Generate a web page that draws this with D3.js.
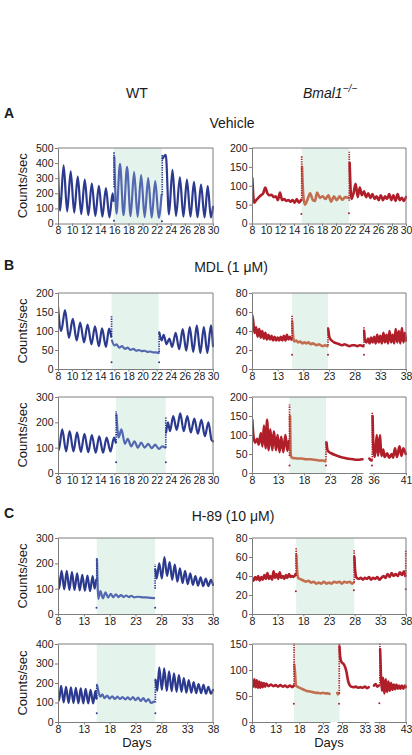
<!DOCTYPE html>
<html><head><meta charset="utf-8">
<script src="https://cdn.jsdelivr.net/npm/d3@7"></script>
<style>
body{margin:0;background:#fff;}
svg{display:block;font-family:Arial,"Liberation Sans",Helvetica,sans-serif;}
</style></head><body>
<svg id="chart" width="412" height="755"></svg>
<script>
// ---------- tick labels ----------
const xTicksEven = [8,10,12,14,16,18,20,22,24,26,28,30];
const xTicksFive = [8,13,18,23,28,33,38];
const xTicksB2Ko = [8,13,18,23,28,36,41];
const xTicksC2Ko = [8,13,18,23,28,33,38,43];
const yT500 = [0,100,200,300,400,500];
const yT400 = [0,100,200,300,400];
const yT300 = [0,100,200,300];
const yT200by50 = [0,50,100,150,200];
const yT150 = [0,50,100,150];
const yT80 = [0,20,40,60,80];

// ---------- A: Vehicle, WT ----------
const aWtPre = [[8,360],[8.3,85],[8.8,385],[9.3,80],[9.8,345],[10.3,72],[10.8,310],[11.3,62],[11.8,290],[12.3,55],[12.8,265],[13.3,50],[13.8,250],[14.3,45],[14.8,235],[15.3,40],[15.75,200],[15.9,150]];
const aWtDrug = [[16.0,440],[16.3,65],[16.8,395],[17.3,55],[17.8,375],[18.3,48],[18.8,340],[19.3,45],[19.8,320],[20.3,42],[20.8,300],[21.3,40],[21.8,280],[22.3,38],[22.7,190]];
const aWtPost = [[22.85,430],[23.3,455],[23.75,60],[24.25,355],[24.75,50],[25.3,305],[25.8,45],[26.3,290],[26.8,45],[27.3,275],[27.8,42],[28.3,258],[28.8,40],[29.25,248],[29.7,40],[30,110]];
const aWtSpikes = [[15.95,240,475],[22.8,190,455]];
const aWtDots = [[15.95,18],[22.75,15]];

// ---------- A: Vehicle, Bmal1-/- ----------
const aKoPre = [[8.05,120],[8.3,55],[8.6,62],[9.0,70],[9.3,75],[9.6,80],[9.9,95],[10.2,80],[10.5,75],[10.8,76],[11.1,70],[11.4,72],[11.7,62],[12.0,82],[12.3,62],[12.6,65],[12.9,60],[13.2,62],[13.5,58],[13.8,62],[14.1,55],[14.4,65],[14.7,55],[15.0,62]];
const aKoDrug = [[15.15,150],[15.3,80],[15.55,50],[15.9,62],[16.3,80],[16.7,62],[17.0,60],[17.3,82],[17.7,68],[18.1,72],[18.5,65],[18.9,75],[19.3,58],[19.7,72],[20.1,62],[20.5,72],[20.9,63],[21.3,70],[21.8,68]];
const aKoPost = [[21.95,160],[22.2,65],[22.5,80],[22.8,105],[23.1,70],[23.4,95],[23.7,75],[24.0,85],[24.3,70],[24.6,80],[24.9,68],[25.2,78],[25.5,65],[25.8,72],[26.1,62],[26.4,75],[26.7,62],[27.0,72],[27.3,65],[27.6,78],[27.9,62],[28.2,75],[28.5,60],[28.8,78],[29.1,62],[29.4,68],[29.7,60],[30,70]];
const aKoSpikes = [[8.0,70,200],[15.1,60,180],[21.9,60,190]];
const aKoDots = [[15.05,25],[21.85,27]];

// ---------- B: MDL, WT (1) ----------
const b1WtPre = [[8,165],[8.45,100],[9.0,155],[9.55,82],[10.1,132],[10.65,75],[11.15,122],[11.7,70],[12.2,117],[12.75,65],[13.25,112],[13.8,60],[14.25,107],[14.8,58],[15.25,106],[15.55,85]];
const b1WtDrug = [[15.65,75],[16.0,62],[16.3,65],[16.7,56],[17.1,60],[17.5,53],[17.9,56],[18.3,50],[18.7,53],[19.1,48],[19.5,50],[19.9,47],[20.3,48],[20.7,45],[21.1,46],[21.5,44],[21.9,44],[22.3,42]];
const b1WtPost = [[22.4,95],[22.7,75],[23.0,90],[23.4,65],[23.8,80],[24.2,58],[24.7,95],[25.2,52],[25.7,105],[26.2,48],[26.7,110],[27.2,45],[27.7,115],[28.2,42],[28.7,110],[29.2,42],[29.7,115],[30,60]];
const b1WtSpikes = [[15.6,85,140],[22.35,45,100]];
const b1WtDots = [[15.6,18],[22.35,18]];

// ---------- B: MDL, Bmal1-/- (1) ----------
const b1KoPre = [[8,57],[8.2,52],[8.5,38],[8.8,44],[9.1,34],[9.4,42],[9.7,33],[10.0,40],[10.3,32],[10.6,38],[10.9,31],[11.2,36],[11.5,31],[11.8,35],[12.1,30],[12.4,34],[12.7,30],[13.0,33],[13.3,30],[13.6,34],[13.9,30],[14.2,35],[14.5,30],[14.8,36],[15.1,31],[15.4,34],[15.7,31]];
const b1KoDrug = [[15.85,50],[16.0,35],[16.2,29],[16.6,30],[17.0,28],[17.4,29],[17.8,27],[18.2,28],[18.6,27],[19.0,28],[19.4,26],[19.8,27],[20.2,26],[20.6,25],[21.0,26],[21.4,25],[21.8,24],[22.2,25],[22.7,24]];
const b1KoPost = [[22.85,42],[23.1,33],[23.5,30],[24.0,28],[24.5,27],[25.0,26],[25.5,25],[26.0,26],[26.5,25],[27.0,24],[27.5,25],[28.0,25],[28.5,24],[29.0,25],[29.7,24]];
const b1KoPost2 = [[29.85,40],[30.0,30],[30.3,28],[30.6,32],[30.9,27],[31.2,33],[31.5,28],[31.8,34],[32.1,27],[32.4,36],[32.7,28],[33.0,35],[33.3,27],[33.6,38],[33.9,28],[34.2,36],[34.5,27],[34.8,40],[35.1,28],[35.4,36],[35.7,27],[36.0,42],[36.3,28],[36.6,40],[36.9,27],[37.2,43],[37.5,28],[37.8,38],[38,30]];
const b1KoSpikes = [[15.8,32,57],[22.8,25,45],[29.8,25,45]];
const b1KoDots = [[15.8,15],[22.8,15],[29.8,15]];

// ---------- B: MDL, WT (2) ----------
const b2WtPre = [[8,95],[8.1,90],[8.6,172],[9.15,85],[9.65,165],[10.2,85],[10.7,160],[11.25,83],[11.75,155],[12.3,82],[12.8,150],[13.35,80],[13.85,145],[14.4,80],[14.9,140],[15.45,85],[15.95,140],[16.2,120]];
const b2WtDrug = [[16.3,230],[16.6,140],[17.0,172],[17.5,115],[17.9,135],[18.4,105],[18.85,125],[19.35,100],[19.8,120],[20.3,100],[20.8,115],[21.3,98],[21.8,112],[22.3,95],[22.8,105],[23.2,100]];
const b2WtPost = [[23.35,160],[23.6,200],[23.9,165],[24.35,225],[24.85,170],[25.35,235],[25.85,165],[26.35,225],[26.85,160],[27.35,215],[27.85,155],[28.35,210],[28.85,145],[29.35,200],[29.8,130],[30,125]];
const b2WtSpikes = [[16.25,120,245],[23.3,100,220]];
const b2WtDots = [[16.25,42],[23.3,42]];

// ---------- B: MDL, Bmal1-/- (2), broken axis ----------
const b2KoPre = [[8.05,140],[8.3,95],[8.6,80],[9.0,90],[9.3,75],[9.7,105],[10.0,70],[10.3,125],[10.6,65],[10.9,140],[11.2,60],[11.5,115],[11.9,60],[12.2,110],[12.6,60],[12.9,100],[13.3,55],[13.6,95],[14.0,55],[14.4,100],[14.8,58],[15.1,85]];
const b2KoDrug = [[15.3,150],[15.45,45],[15.7,40],[16.2,39],[16.8,38],[17.4,38],[18.0,37],[18.6,36],[19.2,36],[19.8,35],[20.4,34],[21.0,33],[21.6,33],[22.1,31]];
const b2KoPost = [[22.3,80],[22.5,60],[22.8,55],[23.2,52],[23.8,48],[24.4,45],[25.0,42],[25.6,40],[26.2,38],[26.8,37],[27.4,36],[28.0,35],[28.6,35],[29.2,36]];
const b2KoLateA = [[35.35,38],[35.5,35],[35.7,33]];
const b2KoLateB = [[35.85,150],[36.0,60],[36.2,42],[36.5,100],[36.7,45],[37.0,100],[37.2,45],[37.5,62],[37.7,42],[38.1,52],[38.4,40],[38.8,50],[39.0,40],[39.3,65],[39.6,42],[40.0,70],[40.3,45],[40.6,65],[40.95,50]];
const b2KoSpikes = [[8.0,90,185],[15.2,45,180],[22.2,35,85],[35.8,35,160]];
const b2KoDots = [[15.2,20],[22.2,20],[35.75,20]];

// ---------- C: H-89, WT (1) ----------
const c1WtPre = [[8,150],[8.2,100],[8.7,170],[9.2,97],[9.7,170],[10.2,95],[10.7,165],[11.2,95],[11.7,160],[12.2,93],[12.7,155],[13.2,92],[13.7,152],[14.2,90],[14.7,150],[15.1,100],[15.4,135]];
const c1WtDrug = [[15.55,215],[15.8,60],[16.2,90],[16.7,62],[17.2,85],[17.7,65],[18.2,80],[18.7,66],[19.2,78],[19.7,67],[20.2,75],[20.7,67],[21.2,73],[21.7,67],[22.2,72],[22.7,66],[23.5,68],[24.5,66],[25.5,65],[26.6,63]];
const c1WtPost = [[26.85,175],[27.1,140],[27.6,200],[28.1,140],[28.6,225],[29.1,150],[29.6,205],[30.1,135],[30.6,195],[31.1,128],[31.6,180],[32.1,122],[32.6,170],[33.1,118],[33.6,160],[34.1,115],[34.6,150],[35.1,112],[35.6,145],[36.1,110],[36.6,140],[37.1,110],[37.6,135],[38,115]];
const c1WtSpikes = [[15.5,130,225],[26.8,100,195]];
const c1WtDots = [[15.45,25],[26.8,25]];

// ---------- C: H-89, Bmal1-/- (1) ----------
const c1KoPre = [[8,38],[8.3,35],[8.6,39],[8.9,36],[9.2,40],[9.5,35],[9.8,39],[10.1,36],[10.4,41],[10.7,37],[11.0,43],[11.3,37],[11.6,40],[11.9,36],[12.2,45],[12.5,38],[12.8,42],[13.1,37],[13.4,44],[13.7,38],[14.0,40],[14.3,37],[14.6,41],[14.9,38],[15.2,42],[15.5,39],[15.8,40],[16.1,39],[16.5,42]];
const c1KoDrug = [[16.65,62],[16.8,45],[17.0,38],[17.3,37],[17.7,36],[18.1,35],[18.5,34],[19.0,35],[19.5,33],[20.0,34],[20.5,32],[21.0,33],[21.5,32],[22.0,34],[22.5,32],[23.0,33],[23.5,32],[24.0,34],[24.5,33],[25.0,34],[25.5,32],[26.0,34],[26.5,33],[27.0,34],[27.5,32],[27.8,33]];
const c1KoPost = [[27.95,60],[28.1,45],[28.4,38],[28.8,37],[29.2,38],[29.6,36],[30.0,38],[30.4,37],[30.8,39],[31.2,36],[31.6,38],[32.0,37],[32.4,39],[32.8,36],[33.2,38],[33.6,40],[34.0,38],[34.4,42],[34.8,39],[35.2,43],[35.6,40],[36.0,42],[36.4,40],[36.8,44],[37.2,41],[37.6,45],[37.85,40]];
const c1KoSpikes = [[16.6,40,70],[27.9,33,67],[37.95,40,67]];
const c1KoDots = [[16.55,24],[27.85,25],[37.95,26]];

// ---------- C: H-89, WT (2) ----------
const c2WtPre = [[8,140],[8.2,110],[8.6,185],[9.1,100],[9.55,180],[10.05,98],[10.5,178],[11.0,97],[11.45,175],[11.95,96],[12.4,172],[12.9,95],[13.35,170],[13.85,95],[14.3,165],[14.8,95],[15.25,160],[15.45,120]];
const c2WtDrug = [[15.55,190],[15.8,160],[16.2,130],[16.6,142],[17.0,122],[17.5,135],[18.0,120],[18.5,132],[19.0,118],[19.5,130],[20.0,118],[20.5,128],[21.0,116],[21.5,126],[22.0,115],[22.5,128],[23.0,112],[23.5,125],[24.0,108],[24.5,122],[25.0,105],[25.5,118],[26.0,98],[26.6,105]];
const c2WtPost = [[26.9,215],[27.2,160],[27.6,280],[28.1,165],[28.55,275],[29.05,160],[29.5,260],[30.0,158],[30.45,250],[30.95,155],[31.4,240],[31.9,155],[32.35,225],[32.85,150],[33.3,215],[33.8,150],[34.25,205],[34.75,148],[35.2,195],[35.7,148],[36.15,190],[36.65,145],[37.1,180],[37.6,145],[38,165]];
const c2WtSpikes = [[15.5,120,190],[26.85,100,225]];
const c2WtDots = [[15.5,45],[26.85,45]];

// ---------- C: H-89, Bmal1-/- (2), broken axis ----------
const c2KoPre = [[8,78],[8.25,68],[8.5,82],[8.75,67],[9.0,80],[9.25,66],[9.5,78],[9.75,66],[10.0,76],[10.25,67],[10.5,75],[10.75,68],[11.0,74],[11.5,69],[12.0,72],[12.5,69],[13.0,71],[13.5,68],[14.0,71],[14.5,68],[15.0,70],[15.5,67],[16.0,70],[16.5,67],[16.8,70]];
const c2KoDrugA = [[16.95,110],[17.1,95],[17.3,70],[17.6,68],[18.0,66],[18.5,64],[19.0,62],[19.5,60],[20.0,59],[20.5,58],[21.0,57],[21.5,56],[22.0,56],[22.5,55],[23.0,56],[23.5,55],[24.0,55],[24.4,54]];
const c2KoDrugB = [[26.95,56],[27.1,53],[27.3,55]];
const c2KoPost = [[27.45,145],[27.6,125],[27.9,115],[28.3,112],[28.7,105],[29.0,95],[29.3,80],[29.6,72],[30.0,68],[30.5,67],[31.0,68],[31.5,66],[32.0,67],[32.5,66],[33.0,68],[33.5,65],[33.85,67]];
const c2KoLateA = [[37.0,70],[37.3,73],[37.6,68],[37.9,70]];
const c2KoLateB = [[38.15,140],[38.3,90],[38.5,60],[38.7,85],[38.95,55],[39.2,82],[39.45,58],[39.7,78],[39.95,60],[40.2,75],[40.45,62],[40.7,72],[40.95,63],[41.2,72],[41.45,64],[41.7,70],[41.95,64],[42.2,70],[42.5,64],[42.8,70],[43,67]];
const c2KoSpikes = [[16.9,68,160],[27.4,55,160],[38.1,70,160]];
const c2KoDots = [[16.85,35],[27.35,35],[38.0,36]];

// ---------- drawing ----------
const COL = {blue:'#2b3a8f', blueDrug:'#5468b2', red:'#b01e2a', redDrug:'#c36e4f',
             shade:'#e4f3eb', frame:'#7d7d7d', text:'#1a1a1a'};
const colX = [[58,213],[252,406]];
const rowY = [[148,223.5],[293,369],[397,473],[538,614],[644,722]];

const panels = [
 {id:'aWt', row:0,col:0, segs:[[8,30]], xTicks:xTicksEven, yTicks:yT500, shade:[15.9,22.75], pre:[aWtPre], drug:[aWtDrug], post:[aWtPost], spikes:aWtSpikes, dots:aWtDots},
 {id:'aKo', row:0,col:1, segs:[[8,30]], xTicks:xTicksEven, yTicks:yT200by50, shade:[15.1,21.87], pre:[aKoPre], drug:[aKoDrug], post:[aKoPost], spikes:aKoSpikes, dots:aKoDots},
 {id:'b1Wt', row:1,col:0, segs:[[8,30]], xTicks:xTicksEven, yTicks:yT200by50, shade:[15.6,22.3], pre:[b1WtPre], drug:[b1WtDrug], post:[b1WtPost], spikes:b1WtSpikes, dots:b1WtDots},
 {id:'b1Ko', row:1,col:1, segs:[[8,38]], xTicks:xTicksFive, yTicks:yT80, shade:[15.8,22.8], pre:[b1KoPre], drug:[b1KoDrug], post:[b1KoPost,b1KoPost2], spikes:b1KoSpikes, dots:b1KoDots},
 {id:'b2Wt', row:2,col:0, segs:[[8,30]], xTicks:xTicksEven, yTicks:yT300, shade:[16.25,23.3], pre:[b2WtPre], drug:[b2WtDrug], post:[b2WtPost], spikes:b2WtSpikes, dots:b2WtDots},
 {id:'b2Ko', row:2,col:1, segs:[[8,29.3],[35.3,41]], ranges:[[252,363],[369,406]], xTicks:xTicksB2Ko, yTicks:yT200by50, shade:[15.15,22.2], pre:[b2KoPre], drug:[b2KoDrug], post:[b2KoPost,b2KoLateA,b2KoLateB], spikes:b2KoSpikes, dots:b2KoDots},
 {id:'c1Wt', row:3,col:0, segs:[[8,38]], xTicks:xTicksFive, yTicks:yT300, shade:[15.5,26.8], pre:[c1WtPre], drug:[c1WtDrug], post:[c1WtPost], spikes:c1WtSpikes, dots:c1WtDots},
 {id:'c1Ko', row:3,col:1, segs:[[8,38]], xTicks:xTicksFive, yTicks:yT80, shade:[16.6,27.9], pre:[c1KoPre], drug:[c1KoDrug], post:[c1KoPost], spikes:c1KoSpikes, dots:c1KoDots},
 {id:'c2Wt', row:4,col:0, segs:[[8,38]], xTicks:xTicksFive, yTicks:yT400, shade:[15.5,26.85], pre:[c2WtPre], drug:[c2WtDrug], post:[c2WtPost], spikes:c2WtSpikes, dots:c2WtDots},
 {id:'c2Ko', row:4,col:1, segs:[[8,24.5],[26.9,33.9],[37,43]], ranges:[[252,330],[337,369],[374,406]], xTicks:xTicksC2Ko, yTicks:yT150, shade:[16.9,27.45], pre:[c2KoPre], drug:[c2KoDrugA,c2KoDrugB], post:[c2KoPost,c2KoLateA,c2KoLateB], spikes:c2KoSpikes, dots:c2KoDots}
];

const svg = d3.select('#chart');
const defs = svg.append('defs');

function drawPanel(p){
  const [x0,x1] = colX[p.col];
  const [yT,yB] = rowY[p.row];
  const ranges = p.ranges || [[x0,x1]];
  const scales = p.segs.map((dom,i)=>d3.scaleLinear().domain(dom).range(ranges[i]));
  const sx = d => {
    for (const s of scales){ const [a,b]=s.domain(); if (d>=a-0.05 && d<=b+0.05) return s(d); }
    return scales[scales.length-1](d);
  };
  const y = d3.scaleLinear().domain([0, p.yTicks[p.yTicks.length-1]]).range([yB,yT]);
  const isWt = p.col===0;
  const base = isWt ? COL.blue : COL.red;
  const drugC = isWt ? COL.blueDrug : COL.redDrug;
  const g = svg.append('g');

  defs.append('clipPath').attr('id','clip-'+p.id)
    .append('rect').attr('x',x0).attr('y',yT-0.5).attr('width',x1-x0+1).attr('height',yB-yT+0.5);

  g.append('rect').attr('x',sx(p.shade[0])).attr('y',yT)
    .attr('width',sx(p.shade[1])-sx(p.shade[0])).attr('height',yB-yT).attr('fill',COL.shade);

  const plot = g.append('g').attr('clip-path',`url(#clip-${p.id})`);
  const line = d3.line().x(d=>sx(d[0])).y(d=>y(d[1])).curve(d3.curveMonotoneX);
  const sw = isWt ? 2.2 : 2.6;
  const drawSeries = (arrs,color)=>arrs.forEach(a=>{
    plot.append('path').attr('d',line(a)).attr('fill','none').attr('stroke',color)
      .attr('stroke-width',sw).attr('stroke-linejoin','round').attr('stroke-linecap','round');
  });
  drawSeries(p.pre, base);
  drawSeries(p.drug, drugC);
  drawSeries(p.post, base);

  plot.selectAll('line.spike').data(p.spikes).join('line').attr('class','spike')
    .attr('x1',d=>sx(d[0])).attr('x2',d=>sx(d[0])).attr('y1',d=>y(d[1])).attr('y2',d=>y(d[2]))
    .attr('stroke',base).attr('stroke-width',1.7).attr('stroke-dasharray','1.3 1.1');
  plot.selectAll('circle.dot').data(p.dots).join('circle').attr('class','dot')
    .attr('cx',d=>sx(d[0])).attr('cy',d=>y(d[1])).attr('r',1).attr('fill',base);

  // frame: top and right
  g.append('line').attr('x1',x0).attr('x2',x1).attr('y1',yT).attr('y2',yT).attr('stroke',COL.frame).attr('stroke-width',1);
  g.append('line').attr('x1',x1).attr('x2',x1).attr('y1',yT).attr('y2',yB).attr('stroke',COL.frame).attr('stroke-width',1);

  // x axes (one per segment)
  scales.forEach(s=>{
    const [a,b] = s.domain();
    const ax = g.append('g').attr('transform',`translate(0,${yB})`)
      .call(d3.axisBottom(s).tickValues(p.xTicks.filter(t=>t>=a-0.01 && t<=b+0.01))
        .tickSize(2.5).tickSizeOuter(0).tickPadding(1).tickFormat(d3.format('d')));
    styleAxis(ax);
  });
  const ay = g.append('g').attr('transform',`translate(${x0},0)`)
    .call(d3.axisLeft(y).tickValues(p.yTicks).tickSize(3).tickSizeOuter(0).tickPadding(1.5));
  styleAxis(ay);

  if (isWt){
    svg.append('text').attr('transform',`translate(27,${(yT+yB)/2}) rotate(-90)`)
      .attr('text-anchor','middle').attr('font-size','13px').attr('fill',COL.text).text('Counts/sec');
  }
}
function styleAxis(ax){
  ax.select('.domain').attr('stroke',COL.frame).attr('stroke-width',1);
  ax.selectAll('.tick line').attr('stroke',COL.frame);
  ax.selectAll('.tick text').attr('font-size','10.5px').attr('fill',COL.text)
    .attr('font-family','Arial,"Liberation Sans",Helvetica,sans-serif');
}
panels.forEach(drawPanel);

// headers & labels
const T = (x,y,txt,opts={})=>svg.append('text').attr('x',x).attr('y',y).attr('text-anchor',opts.anchor||'middle')
  .attr('font-size',opts.size||'14px').attr('font-weight',opts.weight||'normal').attr('fill',COL.text).text(txt);
T(137,98,'WT');
const bm = svg.append('text').attr('x',330).attr('y',98).attr('text-anchor','middle').attr('font-size','14px').attr('fill',COL.text).attr('font-style','italic');
bm.append('tspan').text('Bmal1');
bm.append('tspan').attr('font-size','10px').attr('dy',-6).text('\u2212/\u2212');
T(4,118,'A',{anchor:'start',weight:'bold'});
T(4,270,'B',{anchor:'start',weight:'bold'});
T(4,518,'C',{anchor:'start',weight:'bold'});
T(232,128,'Vehicle');
T(231,272,'MDL (1 \u03bcM)');
T(233,521,'H-89 (10 \u03bcM)');
T(137,747,'Days',{size:'13px'});
T(329,747,'Days',{size:'13px'});
</script>
</body></html>
